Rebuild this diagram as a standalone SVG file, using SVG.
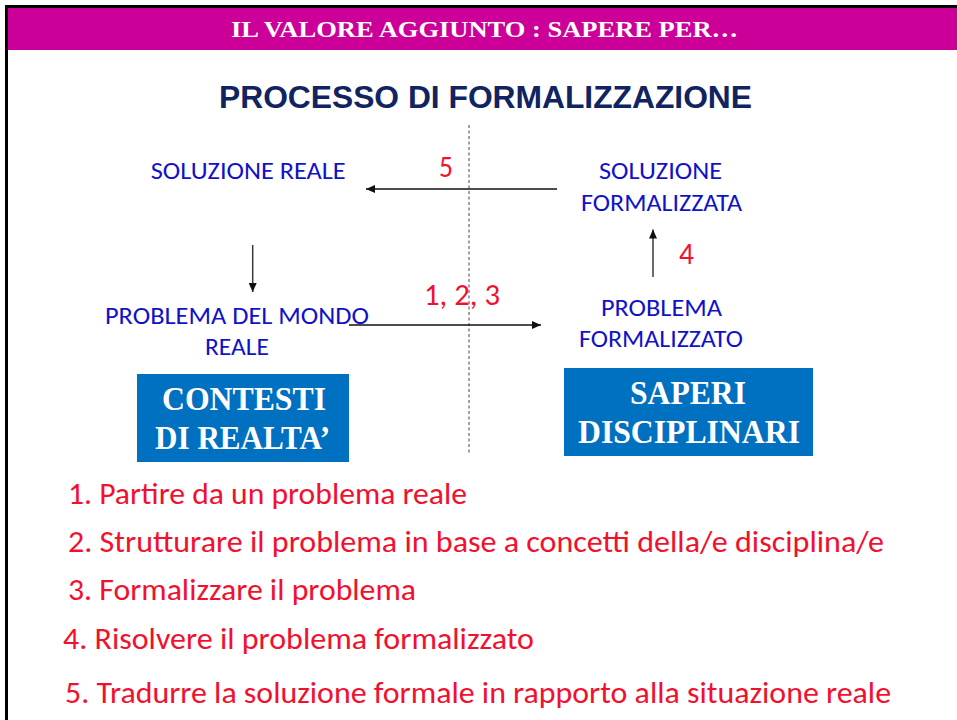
<svg xmlns="http://www.w3.org/2000/svg" width="957" height="720" viewBox="0 0 957 720">
<style>
.hdr{font-family:"Liberation Serif","Times New Roman",serif;font-weight:bold;fill:#ffffff}
.title{font-family:"Liberation Sans",Arial,sans-serif;font-weight:bold;fill:#0f2461}
.lbl{font-family:Calibri,Carlito,"Open Sans",sans-serif;fill:#1111c8;font-size:25px}
.num{font-family:Calibri,Carlito,"Open Sans",sans-serif;fill:#f2102e;font-size:31px}
.step{font-family:Calibri,Carlito,"Open Sans",sans-serif;fill:#f2102e;font-size:30px}
.box{fill:#0070c0}
.boxt{font-family:"Liberation Serif","Times New Roman",serif;font-weight:bold;fill:#ffffff;font-size:33px}
.conn{stroke:#111;stroke-width:1.3;fill:none}
.vconn{stroke:#3a3a3a;stroke-width:1.5;fill:none}
</style>
<defs>
<marker id="ah" markerUnits="userSpaceOnUse" markerWidth="10" markerHeight="8" refX="9" refY="4" orient="auto">
<path d="M0,0 L9,4 L0,8 Z" fill="#111"/>
</marker>
</defs>
<rect x="0" y="0" width="957" height="720" fill="#ffffff"/>
<rect x="5" y="5" width="952" height="3" fill="#000"/>
<rect x="5" y="5" width="3" height="715" fill="#000"/>
<rect x="8" y="8" width="949" height="42" fill="#cc0099"/>
<text class="hdr" x="231" y="37" font-size="24" textLength="507" lengthAdjust="spacingAndGlyphs">IL VALORE AGGIUNTO : SAPERE PER…</text>
<text class="title" x="219" y="108" font-size="32" textLength="533" lengthAdjust="spacingAndGlyphs">PROCESSO DI FORMALIZZAZIONE</text>
<line x1="469" y1="125" x2="469" y2="455" stroke="#8a8a8a" stroke-width="1.6" stroke-dasharray="3,2.5"/>
<g id="connectors">
<line class="conn" x1="557" y1="189" x2="366" y2="189" marker-end="url(#ah)"/>
<line class="vconn" x1="252.7" y1="245" x2="252.7" y2="292" marker-end="url(#ah)"/>
<line class="conn" x1="349" y1="325" x2="541" y2="325" marker-end="url(#ah)"/>
<line class="vconn" x1="653" y1="277" x2="653" y2="229.5" marker-end="url(#ah)"/>
<text class="num" x="439" y="176.5" textLength="14" lengthAdjust="spacingAndGlyphs">5</text>
<text class="num" x="679" y="264" textLength="15" lengthAdjust="spacingAndGlyphs">4</text>
<text class="num" x="424" y="305" textLength="76" lengthAdjust="spacingAndGlyphs">1, 2, 3</text>
</g>
<g id="soluzione-reale">
<text class="lbl" x="150.7" y="179" textLength="195" lengthAdjust="spacingAndGlyphs">SOLUZIONE REALE</text>
</g>
<g id="soluzione-formalizzata">
<text class="lbl" x="599" y="179" textLength="123" lengthAdjust="spacingAndGlyphs">SOLUZIONE</text>
<text class="lbl" x="581" y="211" textLength="161" lengthAdjust="spacingAndGlyphs">FORMALIZZATA</text>
</g>
<g id="problema-mondo-reale">
<text class="lbl" x="105" y="323.5" textLength="264" lengthAdjust="spacingAndGlyphs">PROBLEMA DEL MONDO</text>
<text class="lbl" x="205" y="355" textLength="64" lengthAdjust="spacingAndGlyphs">REALE</text>
</g>
<g id="problema-formalizzato">
<text class="lbl" x="601" y="315.5" textLength="121" lengthAdjust="spacingAndGlyphs">PROBLEMA</text>
<text class="lbl" x="579" y="347" textLength="164" lengthAdjust="spacingAndGlyphs">FORMALIZZATO</text>
</g>
<g id="contesti">
<rect class="box" x="137" y="374" width="212" height="88"/>
<text class="boxt" x="162" y="410" textLength="164" lengthAdjust="spacingAndGlyphs">CONTESTI</text>
<text class="boxt" x="155" y="449" textLength="175" lengthAdjust="spacingAndGlyphs">DI REALTA’</text>
</g>
<g id="saperi">
<rect class="box" x="564" y="368" width="249" height="88"/>
<text class="boxt" x="630" y="404" textLength="116" lengthAdjust="spacingAndGlyphs">SAPERI</text>
<text class="boxt" x="578" y="443" textLength="222" lengthAdjust="spacingAndGlyphs">DISCIPLINARI</text>
</g>
<g id="steps">
<text class="step" x="68" y="504" textLength="399" lengthAdjust="spacingAndGlyphs">1. Partire da un problema reale</text>
<text class="step" x="68" y="552" textLength="816" lengthAdjust="spacingAndGlyphs">2. Strutturare il problema in base a concetti della/e disciplina/e</text>
<text class="step" x="68" y="600" textLength="348" lengthAdjust="spacingAndGlyphs">3. Formalizzare il problema</text>
<text class="step" x="63" y="649" textLength="471" lengthAdjust="spacingAndGlyphs">4. Risolvere il problema formalizzato</text>
<text class="step" x="65" y="703" textLength="826" lengthAdjust="spacingAndGlyphs">5. Tradurre la soluzione formale in rapporto alla situazione reale</text>
</g>
</svg>
